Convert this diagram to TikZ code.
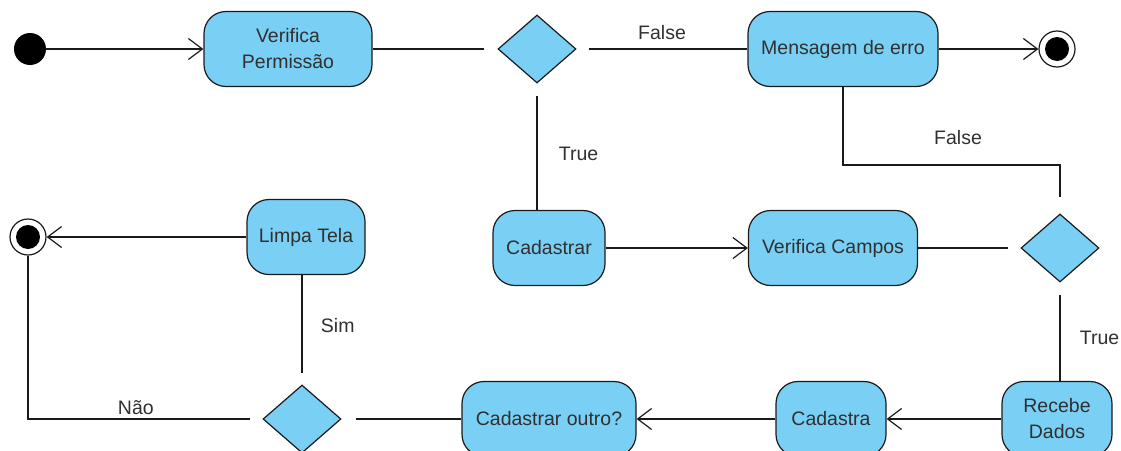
\documentclass[tikz,border=0pt]{standalone}
\usepackage{fontspec}
\setmainfont{Liberation Sans}
\usepackage{xcolor}
\usepackage{tikz}
\usetikzlibrary{arrows.meta,shapes.geometric}
\definecolor{bluefill}{HTML}{7ACFF5}
\definecolor{blackmain}{HTML}{1A1A1A}
\definecolor{graytext}{HTML}{303030}
\tikzset{every node/.append style={font=\fontsize{19.5}{26}\selectfont,text=graytext}}

\begin{document}
\begin{tikzpicture}[x=1pt,y=-1pt,>={Straight Barb[length=14pt,width=21pt]},
  activity/.style={draw=blackmain,line width=1.2pt,fill=bluefill,rounded corners=22pt,
    minimum height=75pt,align=center,inner sep=0pt},
  decision/.style={diamond,draw=blackmain,line width=1.2pt,fill=bluefill,
    minimum width=78pt,minimum height=68pt,inner sep=0pt},
  initial/.style={circle,fill=black,minimum size=32pt,inner sep=0pt},
  final/.style={circle,draw=blackmain,fill=white,line width=1.2pt,minimum size=36pt,inner sep=0pt,
    path picture={\fill[black] (path picture bounding box.center) circle (12pt);}},
  flow/.style={blackmain,line width=1.2pt}]
  \useasboundingbox (0,0) rectangle (1121,450);
  \clip (0,0) rectangle (1121,450);
  % first row
  \node[initial] (start) at (30,49) {};
  \node[activity,minimum width=168pt] (verperm) at (288,49) {Verifica\\Permissão};
  \node[decision] (dec1) at (537,49) {};
  \node[activity,minimum width=190pt] (msgerro) at (843,49) {Mensagem de erro};
  \node[final] (end1) at (1057,49) {};
  % second row
  \node[final] (end2) at (28,237) {};
  \node[activity,minimum width=118pt] (limpa) at (306,237) {Limpa Tela};
  \node[activity,minimum width=112pt] (cadastrar) at (549,248) {Cadastrar};
  \node[activity,minimum width=169pt] (vercampos) at (833,248) {Verifica Campos};
  \node[decision] (dec2) at (1060,248) {};
  % third row
  \node[decision] (dec3) at (302,419) {};
  \node[activity,minimum width=174pt] (cadoutro) at (549,419) {Cadastrar outro?};
  \node[activity,minimum width=110pt] (cadastra) at (831,419) {Cadastra};
  \node[activity,minimum width=110pt] (recebe) at (1057,419) {Recebe\\Dados};
  \coordinate (bendfalse) at (1060,165);

  \draw[flow,->] (start) -- (verperm);
  \draw[flow,shorten >=13pt] (verperm) -- (dec1);
  \draw[flow,shorten <=12pt] (dec1) -- node[above=5pt] (lblfalse1) {False} (msgerro);
  \draw[flow,->] (msgerro) -- (end1);
  \draw[flow,shorten >=16pt] (msgerro.south) |- (bendfalse) -- (dec2.north);
  \node (lblfalse2) at (958,138) {False};
  \draw[flow,shorten <=12pt] (dec1.south) -- (dec1.south |- cadastrar.north)
    node[midway,right=18pt,yshift=-7pt] (lbltrue1) {True};
  \draw[flow,->] (cadastrar) -- (vercampos);
  \draw[flow,shorten >=12pt] (vercampos) -- (dec2);
  \draw[flow,shorten <=12pt] (dec2.south) -- (dec2.south |- recebe.north)
    node[midway,right=16pt,yshift=-6pt] (lbltrue2) {True};
  \draw[flow,->] (recebe) -- (cadastra);
  \draw[flow,->] (cadastra) -- (cadoutro);
  \draw[flow,shorten >=14pt] (cadoutro) -- (dec3);
  \draw[flow,shorten <=11pt] (dec3.north) -- (dec3.north |- limpa.south)
    node[midway,right=15pt,yshift=4pt] (lblsim) {Sim};
  \draw[flow,->] (limpa) -- (end2);
  \draw[flow,shorten <=12pt] (dec3.west) -| (end2.south)
    node[pos=0.27,above] (lblnao) {Não};
\end{tikzpicture}
\end{document}
